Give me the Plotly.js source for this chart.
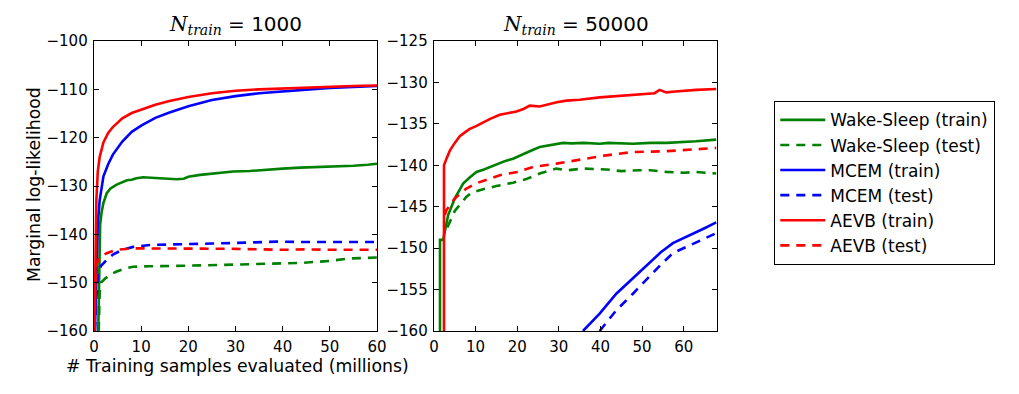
<!DOCTYPE html>
<html>
<head>
<meta charset="utf-8">
<script src="https://cdn.plot.ly/plotly-3.0.1.min.js"></script>
<style>html,body{margin:0;padding:0;background:#fff;}#chart{width:1019px;height:394px;}</style>
</head>
<body>
<div id="chart"></div>
<script>
// ---- Data: N_train = 1000 (left panel) ----
const L_aevbTrainX = [0.1,0.3,0.5,0.8,1.2,2,3,4,6,8,10,13,16,20,25,30,35,40,45,50,55,60];
const L_aevbTrainY = [-160,-145,-133,-127,-124,-121,-119,-117.8,-116,-114.9,-114.2,-113.2,-112.4,-111.6,-110.8,-110.3,-110,-109.8,-109.6,-109.4,-109.3,-109.2];
const L_mcemTrainX = [0.2,0.5,0.8,1.2,2,3,4,6,8,10,13,16,20,25,30,35,40,45,50,55,60];
const L_mcemTrainY = [-160,-145,-138,-133,-128,-125.5,-123.5,-120.8,-118.8,-117.5,-115.9,-114.8,-113.5,-112.2,-111.4,-110.8,-110.4,-110,-109.7,-109.5,-109.3];
const L_wsTrainX = [0.9,1.1,1.3,1.6,2,2.7,3.5,4.8,6,7,8,9,10.4,12,14,17.5,19,20,22.5,26,29.5,33,36.6,40,43.7,47,50.8,55,58,60];
const L_wsTrainY = [-160,-145,-138,-135.5,-133.5,-131.5,-130.5,-129.7,-129.2,-128.8,-128.7,-128.4,-128.2,-128.3,-128.4,-128.6,-128.5,-128.1,-127.7,-127.4,-127,-126.9,-126.6,-126.4,-126.2,-126.1,-126,-125.8,-125.6,-125.4];
const L_mcemTestX = [0.2,0.5,0.9,1.5,2.7,4,6,8.3,11.8,15,18.9,25,29.5,35,38.9,45,50,55,60];
const L_mcemTestY = [-160,-153,-148,-146.5,-145.3,-144.2,-143.2,-142.6,-142.2,-142.1,-142,-141.9,-141.8,-141.6,-141.5,-141.6,-141.6,-141.6,-141.6];
const L_aevbTestX = [0.1,0.3,0.6,1.2,2.7,4.8,8.3,12,18,25,30,40,45,50,55,60];
const L_aevbTestY = [-160,-150,-146,-144.8,-143.9,-143.2,-142.9,-142.9,-143,-142.9,-143,-143.2,-143.1,-143.2,-143.2,-143.2];
const L_wsTestX = [1.0,1.2,1.5,2.3,3.5,4.8,6.5,8.3,11.8,15,18.9,24,29.5,35,40,44,47,50,54,57,60];
const L_wsTestY = [-160,-152,-150,-149.2,-148.3,-147.7,-147.1,-146.7,-146.6,-146.6,-146.5,-146.4,-146.3,-146.1,-146,-145.9,-145.7,-145.5,-145,-144.9,-144.8];

// ---- Data: N_train = 50000 (right panel) ----
const R_aevbTrainX = [2.4,2.4,3,3.84,5,6.2,7.5,8.6,10,11.8,13.5,15.8,17.5,19.8,21.5,23,25.4,27.5,29.5,31.8,35,39.8,43,47.8,51,53,54.2,55.8,58,59.8,63,67.8];
const R_aevbTrainY = [-160,-140,-139.2,-138.2,-137.3,-136.5,-136,-135.6,-135.3,-134.8,-134.4,-133.9,-133.7,-133.5,-133.2,-132.8,-132.9,-132.6,-132.4,-132.2,-132.1,-131.8,-131.7,-131.5,-131.4,-131.3,-130.9,-131.2,-131.1,-131.0,-130.9,-130.8];
const R_wsTrainX = [1.44,1.44,2.2,3.4,5,7,8.5,10.2,12,13.4,15,17,19,21,23,25.4,28,31,33,36,39.8,42,47.8,52,56,59.8,63,67.8];
const R_wsTrainY = [-160,-149,-149,-146,-144,-142.2,-141.5,-140.8,-140.5,-140.2,-139.9,-139.5,-139.2,-138.7,-138.3,-137.8,-137.6,-137.3,-137.35,-137.3,-137.4,-137.3,-137.4,-137.3,-137.3,-137.2,-137.1,-136.9];
const R_aevbTestX = [2.6,3,5,7.8,10,15.8,20,23.8,29.4,35.8,41.4,47.8,55.8,62,67.8];
const R_aevbTestY = [-146,-145.4,-144,-142.8,-142.2,-141.2,-140.8,-140.2,-139.8,-139.3,-138.8,-138.4,-138.3,-138.1,-137.9];
const R_wsTestX = [3.2,4,5,7.8,9,11.8,15,19,22,25.4,29.4,32,35.8,41.4,45,49.4,52,55.8,60,63,67.8];
const R_wsTestY = [-147.5,-146.6,-145.5,-143.8,-143.3,-142.9,-142.5,-142.1,-141.7,-141.0,-140.4,-140.6,-140.4,-140.5,-140.7,-140.6,-140.6,-140.8,-140.9,-140.8,-141.0];
const R_mcemTrainX = [35.8,39.8,43.8,47.8,51.8,54.5,57.4,60,62.2,65,67.8];
const R_mcemTrainY = [-160,-157.9,-155.5,-153.6,-151.8,-150.5,-149.4,-148.8,-148.2,-147.6,-146.9];
const R_mcemTestX = [39.8,43.8,47.8,51.8,54.5,57.4,60,62.2,65,67.8];
const R_mcemTestY = [-160,-157.5,-155.5,-153.4,-152,-150.6,-150,-149.4,-148.8,-148.2];

const seriesNames = ['Wake-Sleep (train)','Wake-Sleep (test)','MCEM (train)','MCEM (test)','AEVB (train)','AEVB (test)'];
const titleLeft = '<span style="font-family:\'DejaVu Serif\'"><i>N</i><sub><i>train</i></sub></span> = 1000';
const titleRight = '<span style="font-family:\'DejaVu Serif\'"><i>N</i><sub><i>train</i></sub></span> = 50000';
const xTitle = '# Training samples evaluated (millions)';
const yTitle = 'Marginal log-likelihood';
const leftYTicks = [-160,-150,-140,-130,-120,-110,-100];
const rightYTicks = [-160,-155,-150,-145,-140,-135,-130,-125];
const xTicks = [0,10,20,30,40,50,60];

const GREEN = '#008000', BLUE = '#0000ff', RED = '#ff0000';
const DASH = '9px,7px';
const LW = 2.6;

function tr(x, y, name, color, dashed, xa, ya, show) {
  return {
    x: x, y: y, name: name, type: 'scatter', mode: 'lines',
    line: {color: color, width: LW, dash: dashed ? DASH : 'solid'},
    xaxis: xa, yaxis: ya, showlegend: show, legendgroup: name,
    hoverinfo: 'skip'
  };
}

const data = [
  tr(L_wsTrainX, L_wsTrainY, seriesNames[0], GREEN, false, 'x', 'y', true),
  tr(L_wsTestX, L_wsTestY, seriesNames[1], GREEN, true, 'x', 'y', true),
  tr(L_mcemTrainX, L_mcemTrainY, seriesNames[2], BLUE, false, 'x', 'y', true),
  tr(L_mcemTestX, L_mcemTestY, seriesNames[3], BLUE, true, 'x', 'y', true),
  tr(L_aevbTrainX, L_aevbTrainY, seriesNames[4], RED, false, 'x', 'y', true),
  tr(L_aevbTestX, L_aevbTestY, seriesNames[5], RED, true, 'x', 'y', true),
  tr(R_wsTrainX, R_wsTrainY, seriesNames[0], GREEN, false, 'x2', 'y2', false),
  tr(R_wsTestX, R_wsTestY, seriesNames[1], GREEN, true, 'x2', 'y2', false),
  tr(R_mcemTrainX, R_mcemTrainY, seriesNames[2], BLUE, false, 'x2', 'y2', false),
  tr(R_mcemTestX, R_mcemTestY, seriesNames[3], BLUE, true, 'x2', 'y2', false),
  tr(R_aevbTrainX, R_aevbTrainY, seriesNames[4], RED, false, 'x2', 'y2', false),
  tr(R_aevbTestX, R_aevbTestY, seriesNames[5], RED, true, 'x2', 'y2', false)
];

const W = 1019, H = 394;
const axBase = {
  showline: true, linecolor: '#000', linewidth: 1.3, mirror: 'allticks',
  ticks: 'inside', ticklen: 5, tickwidth: 1, tickcolor: '#000',
  showgrid: false, zeroline: false, automargin: false,
  tickfont: {family: 'DejaVu Sans', size: 15, color: '#000'}
};
const yDom = [1 - 331 / H, 1 - 41 / H];

const layout = {
  width: W, height: H,
  margin: {l: 0, r: 0, t: 0, b: 0},
  paper_bgcolor: '#fff', plot_bgcolor: '#fff',
  font: {family: 'DejaVu Sans', color: '#000'},
  xaxis: Object.assign({}, axBase, {domain: [94 / W, 377 / W], range: [0, 60], tickvals: xTicks, anchor: 'y', ticklabelstandoff: 2}),
  yaxis: Object.assign({}, axBase, {domain: yDom, range: [-160, -100], tickvals: leftYTicks, anchor: 'x', ticklabelstandoff: 2}),
  xaxis2: Object.assign({}, axBase, {domain: [434 / W, 717 / W], range: [0, 68], tickvals: xTicks, anchor: 'y2', ticklabelstandoff: 2}),
  yaxis2: Object.assign({}, axBase, {domain: yDom, range: [-160, -125], tickvals: rightYTicks, anchor: 'x2', ticklabelstandoff: 2}),
  showlegend: true,
  legend: {
    x: 774 / W, y: 1 - 101 / H, xanchor: 'left', yanchor: 'top',
    bordercolor: '#000', borderwidth: 1.3, bgcolor: '#fff',
    font: {family: 'DejaVu Sans', size: 17, color: '#000'},
    traceorder: 'grouped', tracegroupgap: 0, itemwidth: 45
  },
  annotations: [
    {text: titleLeft, xref: 'paper', yref: 'paper', x: 235.5 / W, y: 1 - 25 / H, xanchor: 'center', yanchor: 'middle', showarrow: false, font: {size: 20, family: 'DejaVu Sans', color: '#000'}},
    {text: titleRight, xref: 'paper', yref: 'paper', x: 575.5 / W, y: 1 - 25 / H, xanchor: 'center', yanchor: 'middle', showarrow: false, font: {size: 20, family: 'DejaVu Sans', color: '#000'}},
    {text: xTitle, xref: 'paper', yref: 'paper', x: 237 / W, y: 1 - 366 / H, xanchor: 'center', yanchor: 'middle', showarrow: false, font: {size: 17.3, family: 'DejaVu Sans', color: '#000'}},
    {text: yTitle, xref: 'paper', yref: 'paper', x: 34 / W, y: 1 - 185 / H, xanchor: 'center', yanchor: 'middle', textangle: -90, showarrow: false, font: {size: 17.3, family: 'DejaVu Sans', color: '#000'}}
  ]
};

Plotly.newPlot('chart', data, layout, {displayModeBar: false, staticPlot: true});
</script>
</body>
</html>
